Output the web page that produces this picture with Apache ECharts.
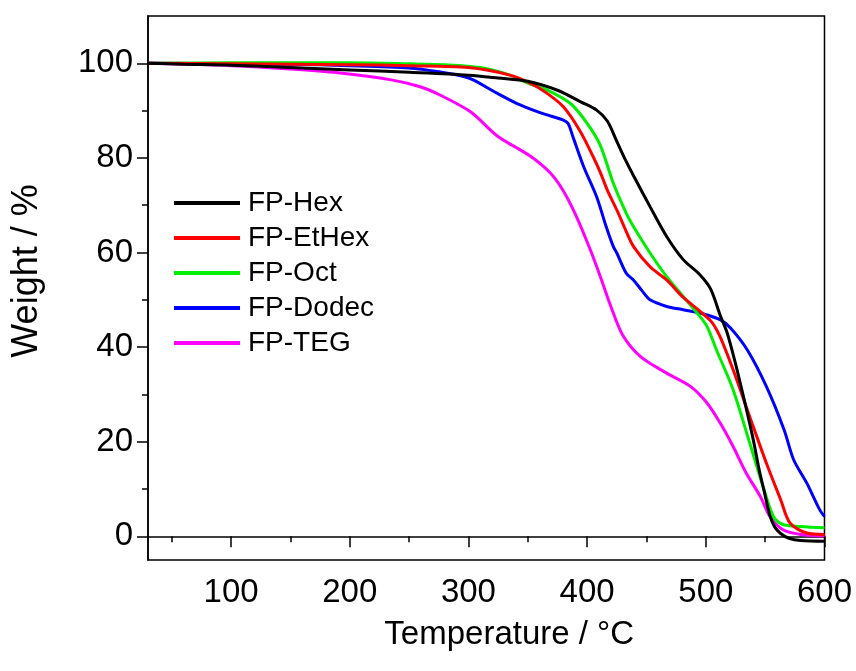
<!DOCTYPE html>
<html>
<head>
<meta charset="utf-8">
<script src="https://cdn.jsdelivr.net/npm/echarts@6/dist/echarts.min.js"></script>
<style>
html,body{margin:0;padding:0;background:#fff;}
#chart{width:856px;height:671px;}
</style>
</head>
<body>
<div id="chart"></div>
<script>
// ---- data ----
var seriesNames = ["FP-Hex", "FP-EtHex", "FP-Oct", "FP-Dodec", "FP-TEG"];

var hexT = [30, 60, 100, 150, 200, 250, 300, 325, 350, 375, 395, 408, 417, 425, 433, 440, 453, 467, 481, 495, 504, 512, 518, 524, 529, 535, 540, 545, 549, 554, 558, 563, 570, 580, 600];
var hexW = [100, 99.8, 99.6, 99.1, 98.6, 98.1, 97.5, 96.9, 96.2, 94.3, 91.8, 90.1, 87.8, 83.5, 79.2, 75.8, 69.7, 63.4, 58.5, 55.3, 52.3, 46.8, 43, 37.5, 32.4, 26, 20.4, 14, 9.7, 4.4, 2, 0.6, -0.4, -0.9, -1.05];

var ethexT = [30, 100, 200, 250, 300, 335, 352, 366, 380, 394, 405, 411, 417, 425, 432, 439, 453, 467, 481, 495, 505, 512, 523, 537, 551, 563, 571, 585, 600];
var ethexW = [100, 99.9, 99.7, 99.5, 99.1, 97.5, 95.8, 93.7, 90.8, 85.7, 80.3, 77, 73.2, 69, 65, 61.3, 57, 54.2, 50.5, 47.6, 45.3, 42.2, 35.2, 25.3, 15.5, 7.8, 2.8, 0.7, 0.4];

var octT = [30, 100, 200, 250, 280, 310, 335, 350, 366, 386, 400, 411, 422, 433, 439, 453, 467, 481, 495, 501, 509, 523, 537, 549, 557, 565, 580, 600];
var octW = [100, 100.1, 100.1, 99.9, 99.7, 99.1, 97.5, 95.8, 94.4, 91.5, 87.3, 82.7, 74.7, 68.3, 65.5, 59.9, 54.9, 50.7, 46.5, 44.4, 39.4, 31, 19.7, 9.9, 4.2, 2.5, 2.1, 1.8];

var dodecT = [30, 100, 150, 200, 250, 275, 296, 304, 324, 341, 358, 370, 380, 384, 388, 397, 408, 416, 422, 425, 433, 439, 446, 453, 467, 481, 495, 512, 521, 535, 551, 566, 574, 585, 596, 600];
var dodecW = [100, 99.9, 99.8, 99.5, 99, 98.2, 97.2, 96.5, 93.7, 91.5, 89.8, 88.8, 88, 87.3, 84.5, 78.2, 71.8, 65.5, 61.3, 59.9, 55.6, 54.2, 52, 50, 48.6, 47.9, 47.2, 45.8, 44, 39.4, 31.7, 22.5, 16.2, 11.3, 5.6, 4.2];

var tegT = [30, 100, 150, 190, 235, 260, 276, 302, 324, 352, 369, 380, 391, 402, 411, 420, 430, 445, 467, 487, 501, 512, 523, 534, 546, 554, 565, 580, 600];
var tegW = [100, 99.5, 98.8, 98, 96.5, 95, 93.3, 89.7, 84.7, 80.4, 76.8, 73, 67.6, 61, 55, 48.6, 42.5, 38, 34.5, 31.7, 28.2, 24, 19, 13.4, 8.4, 4.2, 1.4, 0.4, 0.1];

var xLabelTicks = [100, 200, 300, 400, 500, 600];
var xMinorTicks = [50, 150, 250, 350, 450, 550];
var yLabelTicks = [0, 20, 40, 60, 80, 100];
var yMinorTicks = [10, 30, 50, 70, 90];

var colors = ["#000000", "#ff0000", "#00ee00", "#0000ff", "#ff00ff"];

// ---- chart ----
function zip(t, w) { return t.map(function (v, i) { return [v, w[i]]; }); }
var allT = [hexT, ethexT, octT, dodecT, tegT];
var allW = [hexW, ethexW, octW, dodecW, tegW];

var FONT = "Liberation Sans, Arial, Helvetica, sans-serif";

var chart = echarts.init(document.getElementById('chart'), null, {renderer: 'canvas'});
var option = {
  backgroundColor: '#ffffff',
  animation: false,
  color: colors,
  grid: {
    left: 148, right: 31.5, top: 16, bottom: 111,
    show: true, borderColor: '#000', borderWidth: 1.5, backgroundColor: 'transparent'
  },
  legend: {
    orient: 'vertical',
    left: 169, top: 184,
    icon: 'rect',
    itemWidth: 66, itemHeight: 4,
    itemGap: 7,
    data: seriesNames,
    textStyle: {fontFamily: FONT, fontSize: 28, color: '#000', lineHeight: 28, padding: [0, 0, 0, 3]}
  },
  xAxis: [{
    type: 'value', min: 30, max: 600,
    name: 'Temperature / °C', nameLocation: 'middle', nameGap: 58,
    nameTextStyle: {fontFamily: FONT, fontSize: 33, color: '#000', padding: [0, 0, 0, 46]},
    axisLine: {show: true, lineStyle: {color: '#000', width: 1.5}},
    axisTick: {show: true, inside: false, length: 11, lineStyle: {color: '#000', width: 1.5}, customValues: xLabelTicks},
    axisLabel: {show: true, margin: 16, fontFamily: FONT, fontSize: 33, color: '#000', customValues: xLabelTicks},
    splitLine: {show: false}
  }, {
    type: 'value', min: 30, max: 600, position: 'bottom',
    axisLine: {show: false},
    axisTick: {show: true, length: 6, lineStyle: {color: '#000', width: 1.5}, customValues: xMinorTicks},
    axisLabel: {show: false},
    splitLine: {show: false}
  }],
  yAxis: [{
    type: 'value', min: -5, max: 110,
    name: 'Weight / %', nameLocation: 'middle', nameGap: 103,
    nameTextStyle: {fontFamily: FONT, fontSize: 36, color: '#000', padding: [0, 0, 0, 34]},
    axisLine: {show: true, lineStyle: {color: '#000', width: 1.5}},
    axisTick: {show: true, inside: false, length: 11, lineStyle: {color: '#000', width: 1.5}, customValues: yLabelTicks},
    axisLabel: {show: true, margin: 15, fontFamily: FONT, fontSize: 33, color: '#000', customValues: yLabelTicks},
    splitLine: {show: false}
  }, {
    type: 'value', min: -5, max: 110, position: 'left',
    axisLine: {show: false},
    axisTick: {show: true, length: 6, lineStyle: {color: '#000', width: 1.5}, customValues: yMinorTicks},
    axisLabel: {show: false},
    splitLine: {show: false}
  }],
  series: seriesNames.map(function (name, i) {
    return {
      name: name,
      type: 'line',
      xAxisIndex: 0, yAxisIndex: 0,
      data: zip(allT[i], allW[i]),
      showSymbol: false, symbol: 'none',
      smooth: 0.3,
      lineStyle: {width: 3, color: colors[i]},
      itemStyle: {color: colors[i]},
      z: 10 - i
    };
  })
};
chart.setOption(option);
</script>
</body>
</html>
